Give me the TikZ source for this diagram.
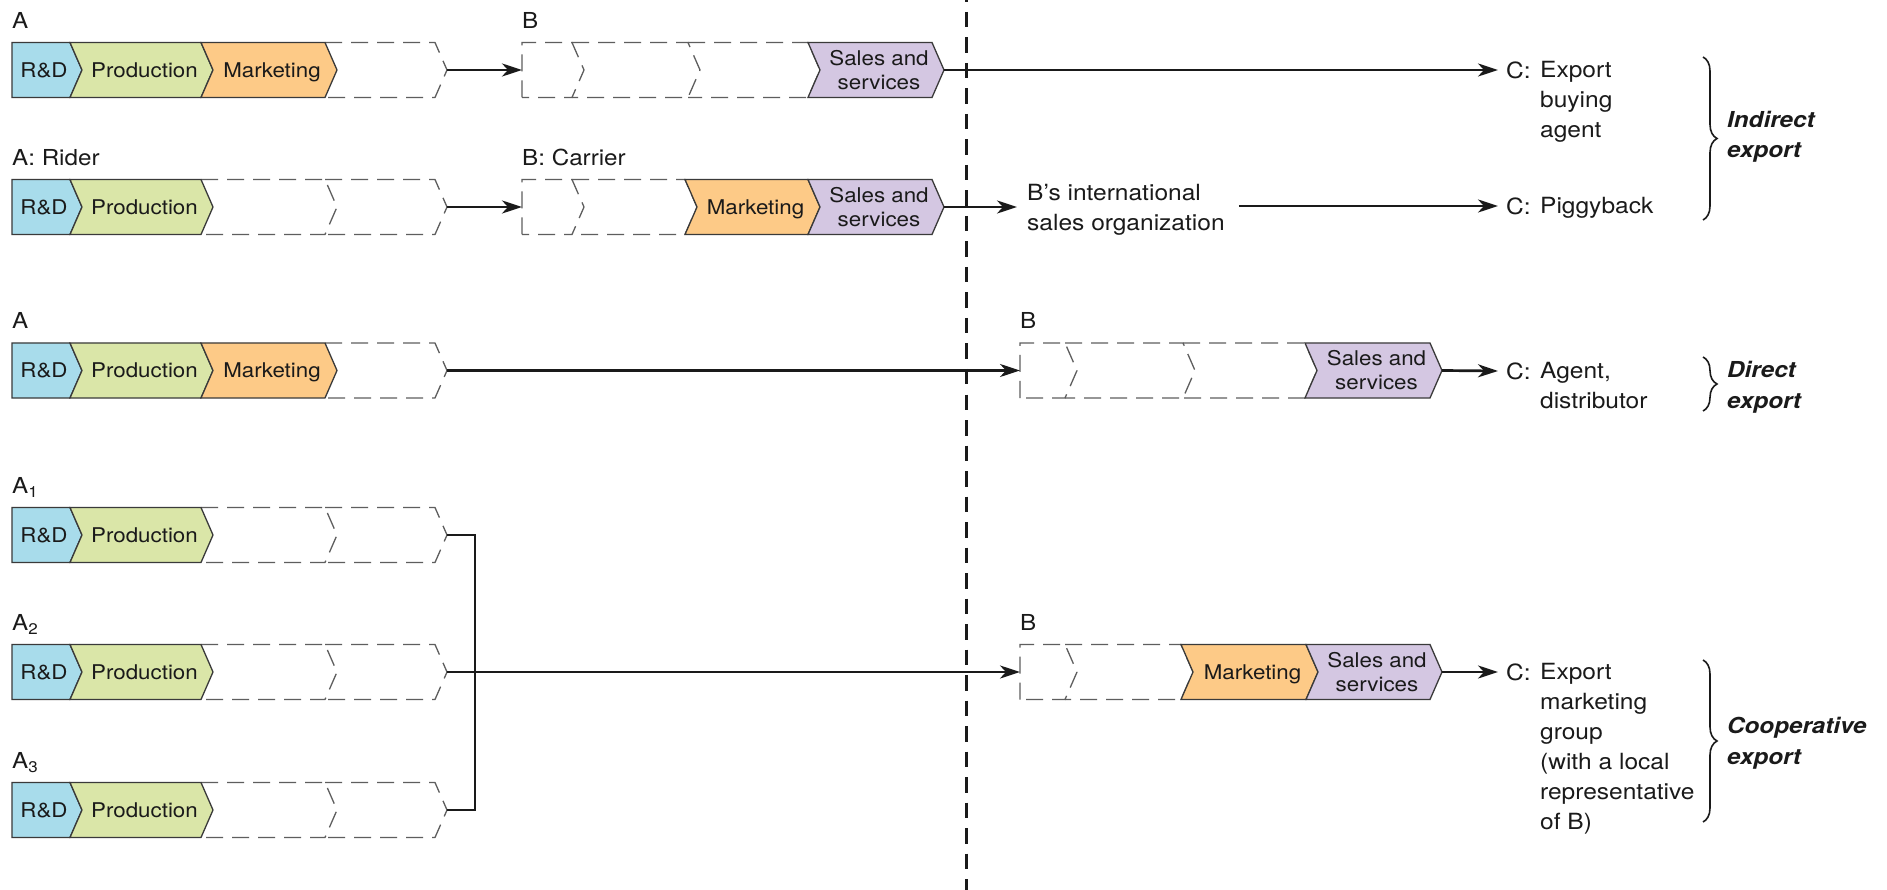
\documentclass[tikz,border=0pt]{standalone}
\usepackage{fontspec}
\setmainfont{TeX Gyre Heros}[FakeStretch=1.1]
\usetikzlibrary{arrows.meta,decorations.pathreplacing}

\definecolor{rdblue}{HTML}{A8DCEB}
\definecolor{prodgreen}{HTML}{DAE6A8}
\definecolor{mktorange}{HTML}{FDCA87}
\definecolor{salespurple}{HTML}{D4C7E2}
\definecolor{ink}{HTML}{1A1A1A}
\definecolor{edge}{HTML}{3A3A3A}
\definecolor{dashgray}{HTML}{5E5E5E}

\tikzset{
  stage/.style={draw=edge, line width=1.3pt, line join=miter},
  rd/.style={stage, fill=rdblue},
  prod/.style={stage, fill=prodgreen},
  mkt/.style={stage, fill=mktorange},
  sales/.style={stage, fill=salespurple},
  idle/.style={draw=dashgray, line width=1.3pt, dash pattern=on 17pt off 9pt},
  oneline/.style={inner sep=0pt, text=ink, font=\fontsize{20.3}{24}\selectfont,
    text height=14.6pt, text depth=0pt},
  twoline/.style={inner sep=0pt, text=ink, align=center, font=\fontsize{20.3}{24}\selectfont},
  rdtext/.style={oneline},
  prodtext/.style={oneline},
  mkttext/.style={oneline},
  salestext/.style={twoline},
  rowlabel/.style={anchor=base west, inner sep=0pt, text=ink, font=\fontsize{22}{26}\selectfont},
  ctag/.style={anchor=west, inner xsep=8pt, inner ysep=0pt, text=ink, font=\fontsize{22.3}{30}\selectfont},
  ctext/.style={anchor=north west, inner sep=0pt, text=ink, align=left, font=\fontsize{22.3}{30}\selectfont},
  modelabel/.style={anchor=north west, inner sep=0pt, text=ink, align=left, font=\fontsize{22}{30.5}\selectfont\bfseries\itshape},
  conn/.style={draw=ink, line width=2.7pt, -{Stealth[length=20pt,width=13pt,inset=6pt]}},
  joinline/.style={draw=ink, line width=2.7pt, line join=miter},
  divider/.style={draw=ink, line width=3pt, dash pattern=on 15.5pt off 10pt, dash phase=13.5pt},
  curly/.style={draw=ink, line width=1.6pt, decorate, decoration={brace, amplitude=14pt}},
}

% A filled value-chain stage: left x, right x, mid y, left notch, kind, name, text
\newcommand\stagebox[7]{%
  \path[#5] (#1,#3-27.5) -- (#2,#3-27.5) -- (#2+12,#3) -- (#2,#3+27.5)
    -- (#1,#3+27.5) -- (#1+#4,#3) -- cycle;
  \node[#5text] (#6) at ({(#1+#2+#4)/2+3},#3) {#7};
  \coordinate (#6-tip) at (#2+12,#3);
  \coordinate (#6-tail) at (#1,#3);
}
% An unused stage (dashed), following another stage: left x, right x, mid y, name
\newcommand\idlebox[4]{%
  \path[idle] (#1,#3-27.5) -- (#2,#3-27.5) -- (#2+12,#3) -- (#2,#3+27.5) -- (#1,#3+27.5);
  \coordinate (#4-tip) at (#2+12,#3);
  \coordinate (#4-tail) at (#1,#3);
}
% An unused stage opening a chain (straight left edge)
\newcommand\idlestart[4]{%
  \path[idle] (#1,#3+27.5) -- (#1,#3-27.5) -- (#2,#3-27.5) -- (#2+12,#3) -- (#2,#3+27.5) -- (#1,#3+27.5);
  \coordinate (#4-tip) at (#2+12,#3);
  \coordinate (#4-tail) at (#1,#3);
}

\begin{document}
\begin{tikzpicture}[x=1pt, y=-1pt]
\useasboundingbox (0,0) rectangle (1887,890);
\fill[white] (0,0) rectangle (1887,890);

% ---------- Indirect export: export buying agent ----------
\node[rowlabel] (la1) at (12,28.5) {A};
\idlebox{325}{435}{70}{a1x}
\stagebox{12}{70}{70}{0}{rd}{a1rd}{R\&D}
\stagebox{70}{201}{70}{12}{prod}{a1prod}{Production}
\stagebox{201}{325}{70}{12}{mkt}{a1mkt}{Marketing}

\node[rowlabel] (lb1) at (522,28.5) {B};
\idlestart{522}{572}{70}{b1a}
\idlebox{572}{688}{70}{b1b}
\idlebox{688}{808}{70}{b1c}
\stagebox{808}{932}{70}{12}{sales}{b1sales}{Sales and\\services}

\node[ctag] (c1) at (1498,70) {C:};
\node[ctext] (c1t) at ([xshift=1pt]c1.north east) {Export\\buying\\agent};

% ---------- Indirect export: piggyback ----------
\node[rowlabel] (la2) at (12,165.5) {A: Rider};
\idlebox{201}{325}{207}{a2x}
\idlebox{325}{435}{207}{a2y}
\stagebox{12}{70}{207}{0}{rd}{a2rd}{R\&D}
\stagebox{70}{201}{207}{12}{prod}{a2prod}{Production}

\node[rowlabel] (lb2) at (522,165.5) {B: Carrier};
\idlestart{522}{572}{207}{b2a}
\idlebox{572}{685}{207}{b2b}
\stagebox{685}{808}{207}{12}{mkt}{b2mkt}{Marketing}
\stagebox{808}{932}{207}{12}{sales}{b2sales}{Sales and\\services}

\node[ctext] (bso) at (1027,184) {B’s international\\sales organization};
\node[ctag] (c2) at (1498,206) {C:};
\node[ctext] (c2t) at ([xshift=1pt]c2.north east) {Piggyback};

% ---------- Direct export ----------
\node[rowlabel] (la3) at (12,329) {A};
\idlebox{325}{435}{370.5}{a3x}
\stagebox{12}{70}{370.5}{0}{rd}{a3rd}{R\&D}
\stagebox{70}{201}{370.5}{12}{prod}{a3prod}{Production}
\stagebox{201}{325}{370.5}{12}{mkt}{a3mkt}{Marketing}

\node[rowlabel] (lb3) at (1020,329) {B};
\idlestart{1020}{1065}{370.5}{b3a}
\idlebox{1065}{1183}{370.5}{b3b}
\idlebox{1183}{1305}{370.5}{b3c}
\stagebox{1305}{1430}{370.5}{12}{sales}{b3sales}{Sales and\\services}

\node[ctag] (c3) at (1498,371) {C:};
\node[ctext] (c3t) at ([xshift=1pt]c3.north east) {Agent,\\distributor};

% ---------- Cooperative export ----------
\node[rowlabel] (la4) at (12,493.5) {A\textsubscript{1}};
\idlebox{201}{325}{535}{a4x}
\idlebox{325}{435}{535}{a4y}
\stagebox{12}{70}{535}{0}{rd}{a4rd}{R\&D}
\stagebox{70}{201}{535}{12}{prod}{a4prod}{Production}

\node[rowlabel] (la5) at (12,630.5) {A\textsubscript{2}};
\idlebox{201}{325}{672}{a5x}
\idlebox{325}{435}{672}{a5y}
\stagebox{12}{70}{672}{0}{rd}{a5rd}{R\&D}
\stagebox{70}{201}{672}{12}{prod}{a5prod}{Production}

\node[rowlabel] (la6) at (12,768.5) {A\textsubscript{3}};
\idlebox{201}{325}{810}{a6x}
\idlebox{325}{435}{810}{a6y}
\stagebox{12}{70}{810}{0}{rd}{a6rd}{R\&D}
\stagebox{70}{201}{810}{12}{prod}{a6prod}{Production}

\node[rowlabel] (lb5) at (1020,630.5) {B};
\idlestart{1020}{1065}{672}{b5a}
\idlebox{1065}{1181}{672}{b5b}
\stagebox{1181}{1306}{672}{12}{mkt}{b5mkt}{Marketing}
\stagebox{1306}{1430}{672}{12}{sales}{b5sales}{Sales and\\services}

\node[ctag] (c5) at (1498,672) {C:};
\node[ctext] (c5t) at ([xshift=1pt]c5.north east)
  {Export\\marketing\\group\\(with a local\\representative\\of B)};

% ---------- Home / foreign market divider ----------
\coordinate (div-top) at (966,0);
\coordinate (div-bot) at (966,890);
\draw[divider] (div-top) -- (div-bot);

% ---------- Connectors ----------
\draw[conn] (a1x-tip) -- (b1a-tail);
\draw[conn] (b1sales-tip) -- (c1.west);

\draw[conn] (a2y-tip) -- (b2a-tail);
\draw[conn, shorten >=10pt] (b2sales-tip) -- (b2sales-tip -| bso.west);
\draw[conn, shorten <=14pt] (bso.east |- c2.west) -- (c2.west);

\draw[conn] (a3x-tip) -- (b3a-tail);
\draw[conn] (b3sales-tip) -- (c3.west);

\draw[joinline] (a4y-tip) -- ++(28,0) |- (a6y-tip);
\draw[conn] (a5y-tip) -- (b5a-tail);
\draw[conn] (b5sales-tip) -- (c5.west);

% ---------- Export modes ----------
\coordinate (ind-top) at (1703,57);
\coordinate (ind-bot) at (1703,220);
\draw[curly] (ind-top) -- (ind-bot);
\node[modelabel] (ind) at (1727,111) {Indirect\\export};

\coordinate (dir-top) at (1703,357);
\coordinate (dir-bot) at (1703,411);
\draw[curly] (dir-top) -- (dir-bot);
\node[modelabel] (dir) at (1727,361) {Direct\\export};

\coordinate (coop-top) at (1703,660);
\coordinate (coop-bot) at (1703,822);
\draw[curly] (coop-top) -- (coop-bot);
\node[modelabel] (coop) at (1727,717) {Cooperative\\export};
\end{tikzpicture}
\end{document}
